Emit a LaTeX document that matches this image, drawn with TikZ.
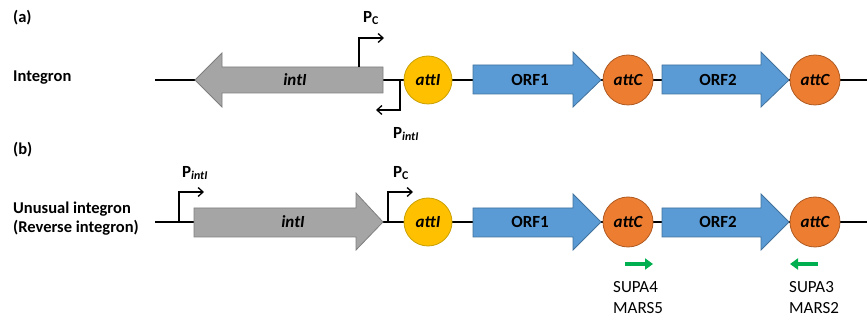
\documentclass[tikz,border=0pt]{standalone}
\usepackage{fontspec}
\setmainfont{Carlito}
\usetikzlibrary{arrows.meta}
\definecolor{greyfill}{HTML}{A5A5A5}
\definecolor{greyline}{HTML}{7F7F7F}
\definecolor{attifill}{HTML}{FFC000}
\definecolor{attiline}{HTML}{C9A000}
\definecolor{bluefill}{HTML}{5B9BD5}
\definecolor{blueline}{HTML}{41719C}
\definecolor{orfill}{HTML}{ED7D31}
\definecolor{orline}{HTML}{AE5A21}
\definecolor{primer}{HTML}{00B050}
\tikzset{
  backbone/.style={line width=1.3pt, black},
  greygene/.style={fill=greyfill, draw=greyline, line width=0.8pt},
  bluegene/.style={fill=bluefill, draw=blueline, line width=0.8pt},
  attinode/.style={circle, fill=attifill, draw=attiline, line width=0.8pt, minimum size=48pt, inner sep=0pt, font=\fontsize{17}{19}\selectfont\bfseries\itshape},
  attcnode/.style={circle, fill=orfill, draw=orline, line width=0.8pt, minimum size=50pt, inner sep=0pt, font=\fontsize{17}{19}\selectfont\bfseries\itshape},
  genelabel/.style={font=\fontsize{17}{19}\selectfont\bfseries},
  igenelabel/.style={font=\fontsize{17}{19}\selectfont\bfseries\itshape},
  rowlabel/.style={anchor=west, inner sep=0pt, font=\fontsize{16.5}{19}\selectfont\bfseries},
  promoter/.style={line width=1.3pt, -{Straight Barb[length=5pt,width=9pt]}},
  plabel/.style={font=\fontsize{17}{19}\selectfont\bfseries},
  primerarrow/.style={primer, line width=3.5pt, -{Triangle[length=8pt,width=11pt]}},
  primerlabel/.style={anchor=north west, align=left, inner sep=0pt, font=\fontsize{17}{21}\selectfont}
}
\begin{document}
\begin{tikzpicture}[x=1pt,y=-1pt]
\useasboundingbox (0,0) rectangle (867,320);
% ---------- row (a)
\node[rowlabel] (la) at (13,18) {(a)};
\node[rowlabel] (lint) at (13,78) {Integron};
\coordinate (a0) at (155,80);
\coordinate (a1) at (867,80);
\draw[backbone] (a0) -- (a1);
\draw[greygene] (195,80) -- (222,53) -- (222,67) -- (383,67) -- (383,93) -- (222,93) -- (222,107) -- cycle;
\node[igenelabel] (aint) at (295,80) {intI};
\coordinate (apc0) at (359,67);
\coordinate (apc1) at (384,38);
\draw[promoter] (apc0) |- (apc1);
\node[plabel] (apclab) at (371,18) {P\textsubscript{C}};
\coordinate (api0) at (400,80);
\coordinate (api1) at (376,110);
\draw[promoter] (api0) |- (api1);
\node[plabel] (apilab) at (406,134) {P\textsubscript{\itshape intI}};
\node[attinode] (aatti) at (428,80) {attI};
\draw[bluegene] (473,65) -- (573,65) -- (573,52) -- (601,80) -- (573,107) -- (573,94) -- (473,94) -- cycle;
\node[genelabel] (aorf1) at (530,80) {ORF1};
\node[attcnode] (aattc1) at (628,80) {attC};
\draw[bluegene] (662,65) -- (761,65) -- (761,52) -- (789,80) -- (761,107) -- (761,94) -- (662,94) -- cycle;
\node[genelabel] (aorf2) at (718,80) {ORF2};
\node[attcnode] (aattc2) at (815,80) {attC};
% ---------- row (b)
\node[rowlabel] (lb) at (13,150) {(b)};
\node[rowlabel, align=left] (lun) at (13,219) {Unusual integron\\(Reverse integron)};
\coordinate (b0) at (155,222);
\coordinate (b1) at (867,222);
\draw[backbone] (b0) -- (b1);
\coordinate (bpi0) at (179,222);
\coordinate (bpi1) at (204,192);
\draw[promoter] (bpi0) |- (bpi1);
\node[plabel] (bpilab) at (195,173) {P\textsubscript{\itshape intI}};
\draw[greygene] (194,208) -- (356,208) -- (356,193) -- (383,222) -- (356,250) -- (356,237) -- (194,237) -- cycle;
\node[igenelabel] (bint) at (293,222) {intI};
\coordinate (bpc0) at (388,222);
\coordinate (bpc1) at (413,192);
\draw[promoter] (bpc0) |- (bpc1);
\node[plabel] (bpclab) at (401,173) {P\textsubscript{C}};
\node[attinode] (batti) at (428,222) {attI};
\draw[bluegene] (473,208) -- (573,208) -- (573,194) -- (601,222) -- (573,250) -- (573,237) -- (473,237) -- cycle;
\node[genelabel] (borf1) at (530,222) {ORF1};
\node[attcnode] (battc1) at (628,222) {attC};
\draw[bluegene] (662,208) -- (761,208) -- (761,194) -- (789,222) -- (761,250) -- (761,237) -- (662,237) -- cycle;
\node[genelabel] (borf2) at (718,222) {ORF2};
\node[attcnode] (battc2) at (815,222) {attC};
% primers
\coordinate (p1s) at (625,264);
\coordinate (p1e) at (653,264);
\draw[primerarrow] (p1s) -- (p1e);
\coordinate (p2s) at (818,264);
\coordinate (p2e) at (790,264);
\draw[primerarrow] (p2s) -- (p2e);
\node[primerlabel] (pl1) at (613,281) {SUPA4\\MARS5};
\node[primerlabel] (pl2) at (789,281) {SUPA3\\MARS2};
\end{tikzpicture}
\end{document}
